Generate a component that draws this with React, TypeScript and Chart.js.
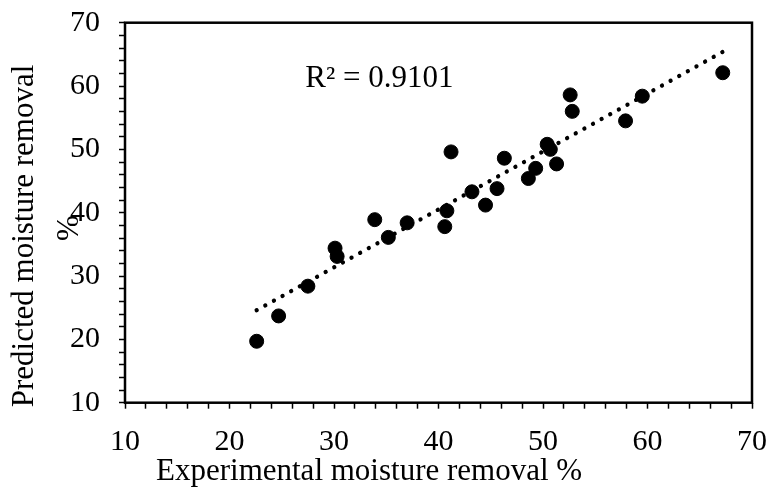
import React, { useEffect, useRef } from "react";
import { Chart, registerables } from "chart.js";

Chart.register(...registerables);

// Experimental (x) vs predicted (y) moisture removal, %
const experimental = [22.6, 24.7, 27.5, 30.1, 30.3, 33.9, 35.2, 37.0, 40.6, 40.8, 41.2, 43.2, 44.5, 45.6, 46.3, 48.6, 49.3, 50.4, 50.7, 51.3, 52.6, 52.8, 57.9, 59.5, 67.2];
const predicted = [19.7, 23.7, 28.4, 34.4, 33.1, 38.9, 36.1, 38.4, 37.8, 40.3, 49.6, 43.3, 41.2, 43.8, 48.6, 45.4, 47.0, 50.8, 50.0, 47.7, 58.6, 56.0, 54.5, 58.4, 62.1];

// Linear trendline end points
const trendX = [22.6, 67.2];
const trendY = [24.6, 65.4];

const axisMin = 10;
const axisMax = 70;
const minorStep = 2;
const majorStep = 10;

const xTitle = "Experimental moisture removal %";
const yTitleLines = ["Predicted moisture removal", "%"];
const rSquaredText = "R\u00B2 = 0.9101";
const rSquaredAt = { x: 27.25, y: 59.85 };

const FONT = "'Liberation Serif', 'Times New Roman', serif";

const framePlugin = {
  id: "frameAndLabel",
  beforeDatasetsDraw(chart: any) {
    const { ctx, chartArea: a } = chart;
    ctx.save();
    ctx.strokeStyle = "#000";
    ctx.lineWidth = 2.5;
    ctx.strokeRect(a.left, a.top, a.right - a.left, a.bottom - a.top);
    ctx.restore();
  },
  afterDraw(chart: any) {
    const { ctx, scales } = chart;
    ctx.save();
    ctx.fillStyle = "#000";
    ctx.font = `31px ${FONT}`;
    ctx.textAlign = "left";
    ctx.textBaseline = "alphabetic";
    ctx.fillText(rSquaredText, scales.x.getPixelForValue(rSquaredAt.x), scales.y.getPixelForValue(rSquaredAt.y));
    ctx.restore();
  },
};

const tickLabel = (v: any) => {
  const n = Math.round(Number(v));
  return n % majorStep === 0 ? String(n) : "";
};

export default function App() {
  const ref = useRef<HTMLCanvasElement>(null);

  useEffect(() => {
    document.body.style.margin = "0";
    const canvas = ref.current!;
    const points = experimental.map((x, i) => ({ x, y: predicted[i] }));
    const trend = trendX.map((x, i) => ({ x, y: trendY[i] }));

    const chart = new Chart(canvas, {
      type: "scatter",
      data: {
        datasets: [
          {
            label: "Trendline",
            type: "line",
            data: trend,
            borderColor: "#000",
            borderWidth: 4.3,
            borderDash: [0.01, 9.85],
            borderCapStyle: "round",
            pointRadius: 0,
            fill: false,
            showLine: true,
            order: 1,
          } as any,
          {
            label: "Predicted",
            data: points,
            backgroundColor: "#000",
            borderColor: "#000",
            pointRadius: 7,
            pointHoverRadius: 7,
            order: 2,
          },
        ],
      },
      options: {
        animation: false,
        responsive: false,
        maintainAspectRatio: false,
        layout: { padding: { top: 22.7, right: 16, left: 0, bottom: 0 } },
        plugins: { legend: { display: false }, tooltip: { enabled: false } },
        scales: {
          x: {
            type: "linear",
            position: "bottom",
            min: axisMin,
            max: axisMax,
            afterFit: (s: any) => {
              s.height = 87.3;
              s.paddingLeft = 0;
              s.paddingRight = 0;
            },
            border: { display: false },
            grid: {
              drawOnChartArea: false,
              drawTicks: true,
              tickLength: 6,
              color: "#000",
              tickWidth: 1.5,
            },
            ticks: {
              stepSize: minorStep,
              autoSkip: false,
              maxRotation: 0,
              padding: 15,
              color: "#000",
              font: { family: FONT, size: 30 },
              callback: tickLabel,
            },
            title: {
              display: true,
              text: "    " + xTitle,
              align: "start",
              color: "#000",
              font: { family: FONT, size: 31, lineHeight: 1.2 },
              padding: { top: 0, bottom: 0 },
            },
          },
          y: {
            type: "linear",
            position: "left",
            min: axisMin,
            max: axisMax,
            afterFit: (s: any) => {
              s.width = 125;
              s.paddingTop = 0;
              s.paddingBottom = 0;
            },
            border: { display: false },
            grid: {
              drawOnChartArea: false,
              drawTicks: true,
              tickLength: 6,
              color: "#000",
              tickWidth: 1.5,
            },
            ticks: {
              stepSize: minorStep,
              autoSkip: false,
              padding: 19,
              color: "#000",
              font: { family: FONT, size: 30 },
              callback: tickLabel,
            },
            title: {
              display: true,
              text: [yTitleLines[0] + "      ", yTitleLines[1] + "    "],
              color: "#000",
              font: { family: FONT, size: 31, lineHeight: 45 / 31 },
              padding: { top: 2, bottom: 0 },
            },
          },
        },
      } as any,
      plugins: [framePlugin],
    });
    return () => chart.destroy();
  }, []);

  return (
    <div style={{ position: "absolute", left: 0, top: 0, width: 768, height: 490, background: "#fff" }}>
      <canvas ref={ref} width={768} height={490} style={{ width: 768, height: 490, display: "block" }} />
    </div>
  );
}
